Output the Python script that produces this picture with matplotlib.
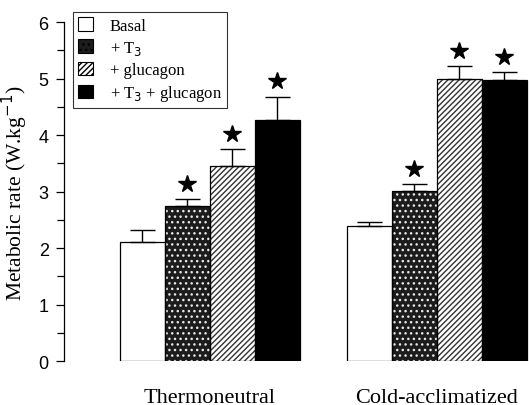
import matplotlib
matplotlib.use("Agg")
import matplotlib.pyplot as plt
from matplotlib.patches import Patch
import numpy as np

groups = ["Thermoneutral", "Cold-acclimatized"]
series = ["Basal", "+ T$_3$", "+ glucagon", "+ T$_3$ + glucagon"]
values = {
    "Basal": [2.10, 2.40],
    "+ T$_3$": [2.75, 3.02],
    "+ glucagon": [3.45, 5.00],
    "+ T$_3$ + glucagon": [4.27, 4.98],
}
errors = {
    "Basal": [0.22, 0.07],
    "+ T$_3$": [0.12, 0.11],
    "+ glucagon": [0.30, 0.22],
    "+ T$_3$ + glucagon": [0.41, 0.14],
}
significant = {
    "Basal": [False, False],
    "+ T$_3$": [True, True],
    "+ glucagon": [True, True],
    "+ T$_3$ + glucagon": [True, True],
}

styles = {
    "Basal": dict(face="white", hatch=None, hcol="black"),
    "+ T$_3$": dict(face="#1c1c1c", hatch="...", hcol="#e8e8e8"),
    "+ glucagon": dict(face="white", hatch="//////", hcol="#333333"),
    "+ T$_3$ + glucagon": dict(face="black", hatch=None, hcol="black"),
}

serif = ["Liberation Serif", "DejaVu Serif"]
sans = ["Liberation Sans", "DejaVu Sans"]

fig = plt.figure(figsize=(5.29, 4.06), dpi=100)
ax = fig.add_axes([0.121, 0.108, 0.879, 0.835])

width = 1.0
group_starts = [0.0, 5.04]
for gi, g0 in enumerate(group_starts):
    for si, s in enumerate(series):
        x = g0 + si * width + width / 2
        v = values[s][gi]
        e = errors[s][gi]
        st = styles[s]
        ax.bar(x, v, width=width, color=st["face"], edgecolor=st["hcol"],
               hatch=st["hatch"], linewidth=0, zorder=2)
        ax.bar(x, v, width=width, fill=False, edgecolor="black", linewidth=0.9, zorder=3)
        ax.errorbar(x, v, yerr=[[0], [e]], fmt="none", ecolor="black",
                    elinewidth=1.0, capsize=9, capthick=1.0, zorder=4)
        if significant[s][gi]:
            ax.plot(x, v + e + 0.27, marker="*", color="black", markersize=13,
                    linestyle="none", zorder=4, clip_on=False)

ax.set_xlim(-1.24, 9.09)
ax.set_ylim(0, 6)
ax.set_yticks(np.arange(0, 7, 1))
ax.set_yticks(np.arange(0.5, 6, 1), minor=True)
ax.set_yticklabels([str(i) for i in range(7)], fontsize=13, family=sans)
ax.tick_params(axis="y", which="major", length=6, width=0.9, direction="out", pad=5)
ax.tick_params(axis="y", which="minor", length=5, width=0.9, direction="out")
ax.set_xticks([g0 + 2 * width for g0 in group_starts])
ax.set_xticklabels(groups, fontsize=16, family=serif)
ax.tick_params(axis="x", length=0, pad=19)
for sp in ["top", "right", "bottom"]:
    ax.spines[sp].set_visible(False)
ax.spines["left"].set_linewidth(0.9)
ax.set_ylabel("Metabolic rate (W.kg$^{-1}$)", fontsize=15.5, family=serif, labelpad=6)

handles = []
for s in series:
    st = styles[s]
    handles.append(Patch(facecolor=st["face"], edgecolor="black",
                         hatch=st["hatch"], linewidth=0.8))
leg = ax.legend(handles, series, loc="upper left", bbox_to_anchor=(0.019, 1.03),
                prop={"family": serif, "size": 12}, frameon=True, fancybox=False,
                edgecolor="black", handlelength=0.9, handleheight=0.9,
                handletextpad=1.0, borderpad=0.3, labelspacing=0.3,
                borderaxespad=0.0)
leg.get_frame().set_linewidth(0.8)

fig.savefig("out.png", dpi=100)
